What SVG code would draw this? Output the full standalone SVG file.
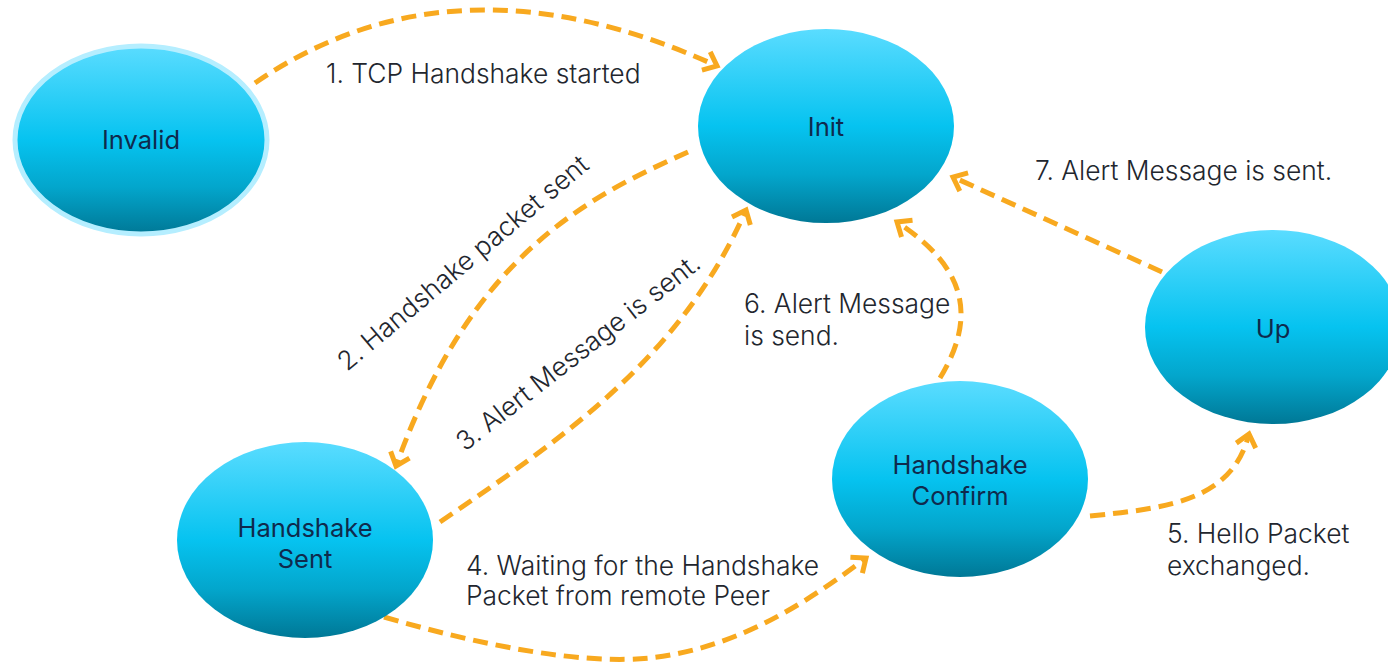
<svg xmlns="http://www.w3.org/2000/svg" width="1388" height="663" viewBox="0 0 1388 663">
  <style>
    .node { stroke: none; }
    .ntext { font-family: Inter, "Noto Sans", "Liberation Sans", sans-serif; font-size: 25.5px; fill: #0f2a4d; text-anchor: middle; }
    .label { font-family: Inter, "Noto Sans", "Liberation Sans", sans-serif; font-size: 26.4px; font-weight: 300; fill: #22262e; }
    .edge { fill: none; stroke: #f8a91f; stroke-width: 5; stroke-dasharray: 15 8; }
  </style>
  <defs>
    <linearGradient id="ballFill" x1="0" y1="0" x2="0" y2="1">
      <stop offset="0" stop-color="#5adcff"/>
      <stop offset="0.5" stop-color="#06c3f0"/>
      <stop offset="0.75" stop-color="#03a6cc"/>
      <stop offset="1" stop-color="#007896"/>
    </linearGradient>
    <marker id="chevron" markerUnits="userSpaceOnUse" markerWidth="30" markerHeight="30" viewBox="-20 -15 30 30" refX="0" refY="0" orient="auto">
      <path d="M-12,-10 L0,0 L-12,10" fill="none" stroke="#f8a91f" stroke-width="5"/>
    </marker>
  </defs>

  <!-- transitions -->
  <g id="connectors">
    <path class="edge" d="M255,83 Q454,-54 717,66" marker-end="url(#chevron)"/>
    <path class="edge" d="M688,152 C580,200 470,260 396,466" marker-end="url(#chevron)"/>
    <path class="edge" d="M440,522 C560,440 680,360 746,210" marker-end="url(#chevron)"/>
    <path class="edge" d="M384,617 C480,645 580,665 650,658 C740,648 810,600 866,558" marker-end="url(#chevron)"/>
    <path class="edge" d="M1090,516 C1170,508 1232,500 1249,434" marker-end="url(#chevron)"/>
    <path class="edge" d="M940,378 C975,320 970,270 897,222" marker-end="url(#chevron)"/>
    <path class="edge" d="M1162,272 L953,177" marker-end="url(#chevron)"/>
  </g>

  <!-- transition labels -->
  <g id="labels">
    <text class="label" x="326" y="83">1. TCP Handshake started</text>
    <text class="label" transform="translate(347,372) rotate(-40)">2. Handshake packet sent</text>
    <text class="label" transform="translate(465,452) rotate(-38)">3. Alert Message is sent.</text>
    <text class="label" x="466" y="575">4. Waiting for the Handshake</text>
    <text class="label" x="466" y="605">Packet from remote Peer</text>
    <text class="label" x="1167" y="543">5. Hello Packet</text>
    <text class="label" x="1167" y="575">exchanged.</text>
    <text class="label" x="744" y="313">6. Alert Message</text>
    <text class="label" x="744" y="345">is send.</text>
    <text class="label" x="1035" y="180">7. Alert Message is sent.</text>
  </g>

  <g id="invalid">
    <ellipse cx="141" cy="140" rx="126" ry="94" fill="url(#ballFill)" stroke="#b5eeff" stroke-width="5"/>
    <text class="ntext" x="141" y="149">Invalid</text>
  </g>
  <g id="init">
    <ellipse class="node" cx="826" cy="126" rx="128" ry="97" fill="url(#ballFill)"/>
    <text class="ntext" x="826" y="136">Init</text>
  </g>
  <g id="handshake-sent">
    <ellipse class="node" cx="305" cy="540" rx="128" ry="98" fill="url(#ballFill)"/>
    <text class="ntext" x="305" y="537">Handshake</text>
    <text class="ntext" x="305" y="568">Sent</text>
  </g>
  <g id="handshake-confirm">
    <ellipse class="node" cx="960" cy="479" rx="128" ry="98" fill="url(#ballFill)"/>
    <text class="ntext" x="960" y="474">Handshake</text>
    <text class="ntext" x="960" y="505">Confirm</text>
  </g>
  <g id="up">
    <ellipse class="node" cx="1273" cy="327" rx="128" ry="97" fill="url(#ballFill)"/>
    <text class="ntext" x="1273" y="338">Up</text>
  </g>
</svg>
